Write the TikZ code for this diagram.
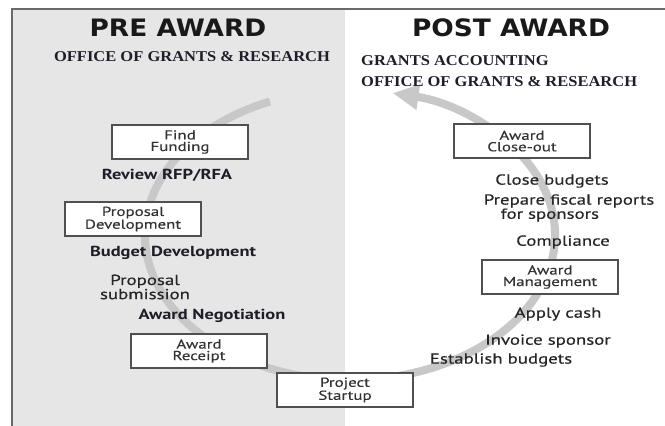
\documentclass[tikz,border=0pt]{standalone}
\usepackage{fontspec}
\usetikzlibrary{arrows.meta}
\newfontfamily\titlefont{DejaVu Sans}[FakeStretch=1.1]
\newfontfamily\officefont{Liberation Serif}[FakeStretch=1.1]
\newfontfamily\labelfont{PT Sans}[FakeStretch=1.27]
\newfontfamily\tasklabelfont{PT Sans}[FakeStretch=1.3, FakeBold=0.5]
\newfontfamily\stagefont{PT Sans}[FakeStretch=1.3, FakeBold=0.3]
\definecolor{panelgrey}{HTML}{E6E6E6}
\definecolor{framegrey}{HTML}{6A6A6A}
\definecolor{cyclegrey}{HTML}{C8C8C8}
\definecolor{boxline}{HTML}{505050}
\definecolor{inkdark}{HTML}{1E1E2A}
\begin{document}
\begin{tikzpicture}[x=1pt,y=-1pt,
  stagebox/.style={draw=boxline, line width=1.4pt, fill=white, minimum width=136pt,
    minimum height=34pt, inner sep=0pt, align=center, text=black!80,
    font=\stagefont\fontsize{13}{11.5}\selectfont},
  boldtask/.style={inner sep=0pt, text=inkdark, font=\labelfont\bfseries\fontsize{14.5}{13}\selectfont},
  task/.style={inner sep=0pt, text=black!85, font=\tasklabelfont\fontsize{14.5}{12}\selectfont},
  heading/.style={inner sep=0pt, text=black!90, font=\titlefont\bfseries\fontsize{24}{24}\selectfont},
  office/.style={inner sep=0pt, text=inkdark, font=\officefont\bfseries\fontsize{15}{21}\selectfont},
  cyclearrow/.style={draw=cyclegrey, line width=8pt,
    -{Triangle[length=26pt, width=24pt]}}]
\useasboundingbox (0,0) rectangle (665,426);

% pre-award panel and frame
\fill[panelgrey] (13,9) rectangle (345,426);
\draw[framegrey, line width=2.5pt] (12,426) -- (12,9) -- (665,9);

% the award life cycle
\draw[cyclearrow] (350,235) ++(247:205 and 145)
  arc[start angle=247, end angle=-78, x radius=205, y radius=145];

% headings
\node[heading] (pre) at (178,28) {PRE AWARD};
\node[heading] (post) at (511,28) {POST AWARD};
\node[office] (preoffice) at (192,57) {OFFICE OF GRANTS \& RESEARCH};
\node[office, anchor=west, align=left] (postoffice) at (361,71)
  {GRANTS ACCOUNTING\\OFFICE OF GRANTS \& RESEARCH};

% stages
\node[stagebox] (find) at (180,142) {Find\\Funding};
\node[stagebox] (develop) at (133,219) {Proposal\\Development};
\node[stagebox] (receipt) at (199,351) {Award\\Receipt};
\node[stagebox] (startup) at (345,390) {Project\\Startup};
\node[stagebox] (manage) at (550,277) {Award\\Management};
\node[stagebox] (closeout) at (522,141) {Award\\Close-out};

% pre-award tasks
\node[boldtask] (rfp) at (167,175) {Review RFP/RFA};
\node[boldtask] (budget) at (173,253) {Budget Development};
\node[task, align=center] (submit) at (145,287) {Proposal\\submission};
\node[boldtask] (negotiate) at (212,316) {Award Negotiation};

% post-award tasks
\node[task] (closebud) at (552,181) {Close budgets};
\node[task, align=left] (fiscal) at (569,208) {Prepare fiscal reports\\\hspace*{17pt}for sponsors};
\node[task] (comply) at (563,242) {Compliance};
\node[task] (cash) at (558,314) {Apply cash};
\node[task] (invoice) at (548,341) {Invoice sponsor};
\node[task] (establish) at (501,360) {Establish budgets};
\end{tikzpicture}
\end{document}
